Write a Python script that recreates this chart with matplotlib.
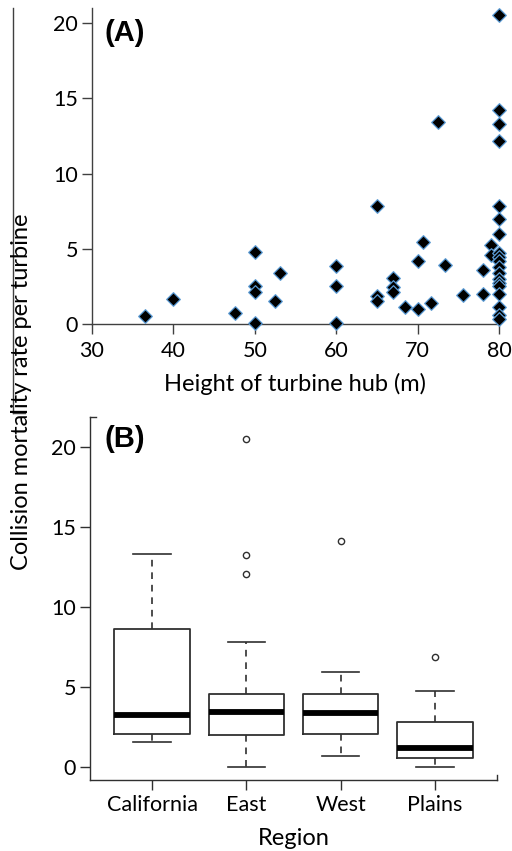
import matplotlib
matplotlib.use("Agg")
import matplotlib.pyplot as plt
from matplotlib.lines import Line2D

plt.rcParams['font.family'] = ['Lato', 'DejaVu Sans']

# ---------------- data: panel A ----------------
hub_height = [36.5, 40, 47.6, 50, 50, 50, 50, 52.5, 53.1, 60, 60, 60,
              65, 65, 65, 67, 67, 67, 68.5, 70, 70, 70.7, 71.6, 72.5,
              73.4, 75.6, 78, 78, 79, 79,
              80, 80, 80, 80, 80, 80, 80, 80, 80, 80, 80, 80, 80, 80, 80,
              80, 80, 80, 80]
mortality = [0.55, 1.66, 0.71, 4.8, 2.55, 2.13, 0.05, 1.55, 3.41, 3.85, 2.55, 0.05,
             7.84, 1.85, 1.55, 3.05, 2.45, 2.1, 1.12, 4.2, 0.98, 5.43, 1.37, 13.4,
             3.94, 1.93, 3.56, 1.98, 5.27, 4.58,
             20.55, 14.2, 13.3, 12.15, 7.85, 6.95, 5.95, 4.7, 4.45, 4.2, 3.8, 3.4,
             3.0, 2.72, 2.5, 2.0, 1.1, 0.6, 0.3]
xticks_a = [30, 40, 50, 60, 70, 80]
yticks = [0, 5, 10, 15, 20]

# ---------------- data: panel B ----------------
regions = ['California', 'East', 'West', 'Plains']
q1 = [2.02, 1.98, 2.08, 0.52]
median = [3.23, 3.42, 3.38, 1.19]
q3 = [8.63, 4.56, 4.56, 2.83]
whisker_low = [1.52, 0.0, 0.69, 0.0]
whisker_high = [13.33, 7.81, 5.94, 4.77]
outliers = [[], [20.5, 13.25, 12.1], [14.12], [6.88]]

W, H = 512, 851
fig = plt.figure(figsize=(W / 100, H / 100), dpi=100)


def rect(l, t, r, b):
    return [l / W, 1 - b / H, (r - l) / W, (b - t) / H]


tick_fs = 15.5
lab_fs = 17

# ---------------- panel A ----------------
axA = fig.add_axes(rect(92, 8, 499, 324))
axA.scatter(hub_height, mortality, marker='D', s=48, facecolor='black',
            edgecolor='#5b9bd5', linewidth=0.9, clip_on=False, zorder=3)
axA.set_xlim(30, 80)
axA.set_ylim(0, 21.0)
axA.set_xticks(xticks_a)
axA.set_yticks(yticks)
for s in ['top', 'right']:
    axA.spines[s].set_visible(False)
for s in ['left', 'bottom']:
    axA.spines[s].set_color('#404040')
    axA.spines[s].set_linewidth(1.0)
axA.tick_params(axis='both', direction='out', length=7, width=1.0,
                color='#404040', labelsize=tick_fs, pad=3)
axA.tick_params(axis='x', pad=5)
axA.set_xlabel('Height of turbine hub (m)', fontsize=lab_fs, labelpad=9)
axA.text(105 / W, 1 - 33 / H, '(A)', transform=fig.transFigure,
         fontsize=21, fontweight='bold', family=['Liberation Sans', 'DejaVu Sans'],
         va='center', ha='left')

# ---------------- panel B ----------------
axB = fig.add_axes(rect(90, 417, 497, 780))
stats = []
for i, r in enumerate(regions):
    stats.append(dict(label=r, q1=q1[i], med=median[i], q3=q3[i],
                      whislo=whisker_low[i], whishi=whisker_high[i],
                      fliers=outliers[i]))
axB.bxp(stats, positions=[1, 2, 3, 4], widths=0.8, capwidths=0.4,
        boxprops=dict(color='#303030', linewidth=1.3),
        medianprops=dict(color='black', linewidth=4.2, solid_capstyle='butt'),
        whiskerprops=dict(color='#303030', linewidth=1.2, linestyle=(0, (4, 3.5))),
        capprops=dict(color='#303030', linewidth=1.2),
        flierprops=dict(marker='o', markerfacecolor='none', markeredgecolor='#303030',
                        markersize=4.5, markeredgewidth=1.0))
axB.set_xlim(0.34, 4.66)
axB.set_ylim(-0.83, 21.9)
axB.set_yticks(yticks)
for s in ['top', 'right']:
    axB.spines[s].set_visible(False)
for s in ['left', 'bottom']:
    axB.spines[s].set_color('#303030')
    axB.spines[s].set_linewidth(1.0)
axB.tick_params(axis='both', direction='out', length=7, width=1.0,
                color='#303030', labelsize=tick_fs, pad=3)
axB.tick_params(axis='x', pad=4)
axB.set_xlabel('Region', fontsize=lab_fs, labelpad=9.5)
axB.text(105 / W, 1 - 439 / H, '(B)', transform=fig.transFigure,
         fontsize=21, fontweight='bold', family=['Liberation Sans', 'DejaVu Sans'],
         va='center', ha='left')

# small box remnants of panel B frame
fig.add_artist(Line2D([90 / W, 96 / W], [1 - 417 / H, 1 - 417 / H],
                      color='#303030', lw=1.0))
fig.add_artist(Line2D([497 / W, 497 / W], [1 - 780 / H, 1 - 775 / H],
                      color='#303030', lw=1.0))

# shared y label and stray axis line
fig.text(22 / W, 1 - 392 / H, 'Collision mortality rate per turbine',
         rotation=90, fontsize=lab_fs, ha='center', va='center')
fig.add_artist(Line2D([12.5 / W, 12.5 / W], [1 - 8 / H, 1 - 413 / H],
                      color='#404040', lw=1.0))
fig.add_artist(Line2D([12.5 / W, 25 / W], [1 - 413 / H, 1 - 413 / H],
                      color='#404040', lw=1.0))

fig.savefig('out.png', dpi=100)
